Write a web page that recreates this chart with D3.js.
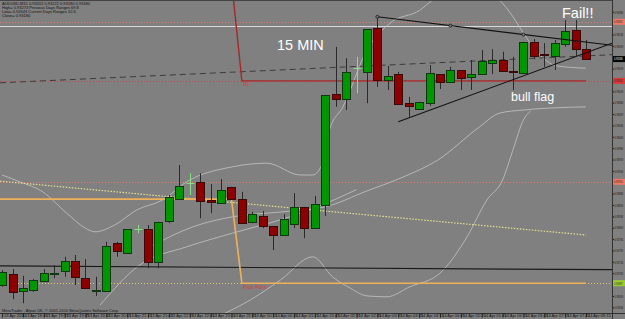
<!DOCTYPE html>
<html>
<head>
<meta charset="utf-8">
<script src="https://cdn.jsdelivr.net/npm/d3@7"></script>
<style>
  html, body { margin: 0; padding: 0; background: #808080; }
  svg { display: block; font-family: "Liberation Sans", Arial, sans-serif; }
</style>
</head>
<body>
<div id="chart"></div>
<script>
// ---- data (AUDUSD M15, 13-14 Apr 2010) ----
var opens  = [0.92683,0.92707,0.92670,0.92672,0.92692,0.92707,0.92714,0.92736,0.92698,0.92670,
              0.92670,0.92775,0.92753,0.92806,0.92806,0.92734,0.92824,0.92872,0.92907,0.92910,
              0.92870,0.92863,0.92899,0.92872,0.92822,0.92835,0.92813,0.92793,0.92817,0.92855,
              0.92808,0.92859,0.93103,0.93092,0.93160,0.93152,0.93248,0.93134,0.93147,0.93083,
              0.93070,0.93083,0.93147,0.93130,0.93156,0.93141,0.93147,0.93171,0.93178,0.93154,
              0.93149,0.93218,0.93191,0.93187,0.93213,0.93244,0.93202];
var highs  = [0.92716,0.92718,0.92703,0.92696,0.92718,0.92727,0.92745,0.92749,0.92740,0.92701,
              0.92778,0.92778,0.92806,0.92815,0.92815,0.92822,0.92881,0.92947,0.92929,0.92929,
              0.92905,0.92916,0.92899,0.92888,0.92844,0.92846,0.92813,0.92839,0.92885,0.92855,
              0.92879,0.93101,0.93207,0.93182,0.93185,0.93246,0.93273,0.93165,0.93152,0.93097,
              0.93086,0.93167,0.93147,0.93163,0.93156,0.93178,0.93200,0.93202,0.93196,0.93185,
              0.93218,0.93224,0.93215,0.93222,0.93266,0.93266,0.93222];
var lows   = [0.92679,0.92652,0.92643,0.92668,0.92690,0.92698,0.92701,0.92683,0.92676,0.92659,
              0.92670,0.92745,0.92753,0.92797,0.92720,0.92720,0.92819,0.92872,0.92881,0.92830,
              0.92841,0.92863,0.92872,0.92819,0.92819,0.92808,0.92760,0.92793,0.92808,0.92786,
              0.92808,0.92835,0.93075,0.93068,0.93105,0.93083,0.93119,0.93112,0.93081,0.93053,
              0.93070,0.93077,0.93114,0.93130,0.93112,0.93112,0.93147,0.93147,0.93154,0.93112,
              0.93149,0.93180,0.93163,0.93156,0.93207,0.93187,0.93180];
var closes = [0.92712,0.92668,0.92676,0.92694,0.92709,0.92709,0.92736,0.92701,0.92676,0.92672,
              0.92769,0.92758,0.92806,0.92806,0.92734,0.92822,0.92877,0.92901,0.92907,0.92868,
              0.92866,0.92892,0.92872,0.92819,0.92839,0.92813,0.92793,0.92828,0.92855,0.92808,
              0.92861,0.93101,0.93092,0.93152,0.93160,0.93246,0.93134,0.93143,0.93081,0.93077,
              0.93086,0.93149,0.93130,0.93156,0.93138,0.93147,0.93176,0.93178,0.93154,0.93152,
              0.93218,0.93187,0.93189,0.93215,0.93242,0.93202,0.93180];

var timeLabels = ["13 Apr 2010","13 Apr 18:45","13 Apr 19:15","13 Apr 19:45","13 Apr 20:15",
                  "13 Apr 20:45","13 Apr 21:15","13 Apr 21:45","13 Apr 22:15","13 Apr 22:45",
                  "13 Apr 23:15","13 Apr 23:45","14 Apr 00:15","14 Apr 00:45","14 Apr 01:15",
                  "14 Apr 01:45","14 Apr 02:15","14 Apr 02:45","14 Apr 03:15","14 Apr 03:45",
                  "14 Apr 04:15","14 Apr 04:45","14 Apr 05:15","14 Apr 05:45","14 Apr 06:15",
                  "14 Apr 06:45","14 Apr 07:15","14 Apr 07:45","14 Apr 08:15"];

// pivot indicator (previous day -> current day)
var pivotValues = [0.92872, 0.92687];
var r1Values    = [0.93354, 0.93132];
var dayBreak    = 23;   // first bar of 14 Apr

// horizontal levels
var levelLines = [
  {price: 0.93262, color: "#e8786a", dash: "1,2", width: 1},
  {price: 0.93253, color: "#d9d9d9", dash: null,  width: 1},
  {price: 0.93132, color: "#c84848", dash: "1,2", width: 1},
  {price: 0.92910, color: "#e8786a", dash: "1,2", width: 1},
  {price: 0.92687, color: "#e6c46a", dash: "1,2", width: 1}
];

// band / average lines [bar index, price]
var upperBand = [[0,0.92925],[1.7,0.92910],[3.9,0.92888],[6.2,0.92841],[8,0.92808],[8.9,0.92800],
                 [10.8,0.92815],[12.9,0.92848],[15.4,0.92870],[17.7,0.92910],[22.1,0.92943],
                 [25.4,0.92951],[28.6,0.92925],[29.8,0.92925],[30.8,0.92954],[31.4,0.93024],
                 [32.7,0.93075],[35,0.93200],[37.2,0.93259],[40.1,0.93288],[41.3,0.93310],
                 [44.5,0.93345],[47.7,0.93310],[49,0.93273],[50,0.93237],[51.6,0.93189],
                 [53.2,0.93165],[56,0.93160]];
var middleBand = [[9.4,0.92639],[13.2,0.92727],[17.7,0.92767],[22.1,0.92797],[27.6,0.92833],
                  [31,0.92862],[34,0.92893]];
var lowerBand  = [[21.4,0.92621],[23.8,0.92650],[26.7,0.92694],[29.8,0.92745],[31.7,0.92701],
                  [33.4,0.92676],[35,0.92659],[36.9,0.92657],[39.1,0.92679],[42,0.92709],
                  [44.6,0.92789],[46.5,0.92870],[48,0.92914],[49,0.92980],[50,0.93046],
                  [50.7,0.93066]];
var longAvg    = [[14.2,0.92767],[18.3,0.92811],[22.1,0.92833],[26.9,0.92844],[31,0.92855],
                  [35,0.92890],[38.2,0.92918],[41.8,0.92958],[45.8,0.93031],[47.7,0.93061],
                  [50,0.93068],[56,0.93075]];

// slow average (dotted yellow) and support line (dark)
var slowAvg   = [[0,0.92911],[56,0.92793]];
var supportLn = [[0,0.92725],[56,0.92717]];

// drawn trend lines: anchors [bar index, price]
var flagTop    = [[36,0.93273],[50,0.93234]];
var flagBottom = [[38,0.93042],[52,0.93160]];
var dashTrend  = [[0,0.93128],[56,0.93187]];

// ---- layout ----
var W = 625, H = 319, plotR = 612, plotB = 313;
var squeeze = 0.62;   // horizontal squeeze for the narrow price-scale labels

var x = d3.scaleLinear().domain([-0.2, 58.5]).range([0, plotR]);
var y = d3.scaleLinear().domain([0.926214, 0.93310]).range([plotB, 0]);

var svg = d3.select("#chart").append("svg")
    .attr("width", W)
    .attr("height", H);

svg.append("rect").attr("width", W).attr("height", H).attr("fill", "#808080");

svg.append("clipPath").attr("id", "plot")
  .append("rect").attr("width", plotR).attr("height", plotB);

var g = svg.append("g").attr("clip-path", "url(#plot)");

// extend a 2-point line across the plot
function rayPoints(a, b, fromLeft) {
  var slope = (b[1] - a[1]) / (b[0] - a[0]);
  var x0 = fromLeft ? x.domain()[0] : a[0];
  var x1 = x.domain()[1];
  return [[x0, a[1] + slope * (x0 - a[0])], [x1, a[1] + slope * (x1 - a[0])]];
}

var line = d3.line().x(function(d) { return x(d[0]); }).y(function(d) { return y(d[1]); });
var curve = d3.line().x(function(d) { return x(d[0]); }).y(function(d) { return y(d[1]); })
    .curve(d3.curveMonotoneX);

// horizontal levels
levelLines.forEach(function(l) {
  g.append("line")
    .attr("x1", 0).attr("x2", plotR)
    .attr("y1", Math.round(y(l.price)) + 0.5).attr("y2", Math.round(y(l.price)) + 0.5)
    .attr("stroke", l.color)
    .attr("stroke-width", l.width)
    .attr("stroke-dasharray", l.dash);
});

// bands
[upperBand, middleBand, lowerBand, longAvg].forEach(function(b) {
  g.append("path").attr("d", curve(b))
    .attr("fill", "none").attr("stroke", "#c4c4c4").attr("stroke-width", 0.8);
});

// slow average, from the left edge to the last bar
var slowStart = rayPoints(slowAvg[0], slowAvg[1], true)[0];
g.append("path").attr("d", line([slowStart, slowAvg[1]]))
  .attr("fill", "none").attr("stroke", "#e8e08c").attr("stroke-width", 1.2)
  .attr("stroke-dasharray", "1.5,1.5");

// support line
g.append("path").attr("d", line(rayPoints(supportLn[0], supportLn[1], true)))
  .attr("fill", "none").attr("stroke", "#1a1a1a").attr("stroke-width", 1.2);

// dashed trend line
g.append("path").attr("d", line(rayPoints(dashTrend[0], dashTrend[1], true)))
  .attr("fill", "none").attr("stroke", "#3c3c3c").attr("stroke-width", 1)
  .attr("stroke-dasharray", "6,4");

// pivot / R1 indicator lines
function levelSeries(vals) {
  return d3.range(-1, closes.length).map(function(i) {
    return [i < 0 ? x.domain()[0] : i, i < dayBreak ? vals[0] : vals[1]];
  });
}
g.append("path").attr("d", line(levelSeries(pivotValues)))
  .attr("fill", "none").attr("stroke", "#f0b058").attr("stroke-width", 1.6);
g.append("path").attr("d", line(levelSeries(r1Values)))
  .attr("fill", "none").attr("stroke", "#a52828").attr("stroke-width", 1.4);

g.append("text").attr("x", x(dayBreak) + 1).attr("y", y(r1Values[1]) + 5)
  .attr("font-size", 5).attr("fill", "#d04040").text("R1");
g.append("text").attr("x", x(dayBreak) + 1).attr("y", y(pivotValues[1]) + 5.5)
  .attr("font-size", 5).attr("fill", "#d04040").text("Pivot Point");

// candles
var idx = d3.range(closes.length);
var candles = g.append("g").selectAll("g").data(idx).enter().append("g");

candles.append("line")
  .attr("x1", function(i) { return Math.round(x(i)) + 0.5; })
  .attr("x2", function(i) { return Math.round(x(i)) + 0.5; })
  .attr("y1", function(i) { return y(highs[i]); })
  .attr("y2", function(i) { return y(lows[i]); })
  .attr("stroke", function(i) { return opens[i] === closes[i] ? "#86e086" : "#2a2a2a"; })
  .attr("stroke-width", 1);

candles.filter(function(i) { return opens[i] !== closes[i]; })
  .append("rect")
  .attr("x", function(i) { return Math.round(x(i)) - 3.5; })
  .attr("y", function(i) { return Math.round(y(Math.max(opens[i], closes[i]))) + 0.5; })
  .attr("width", 8)
  .attr("height", function(i) {
    return Math.max(1, Math.round(Math.abs(y(opens[i]) - y(closes[i]))));
  })
  .attr("fill", function(i) { return closes[i] > opens[i] ? "#009600" : "#8c0000"; })
  .attr("stroke", function(i) { return closes[i] > opens[i] ? "#103810" : "#3a0808"; })
  .attr("stroke-width", 1);

candles.filter(function(i) { return opens[i] === closes[i]; })
  .append("line")
  .attr("x1", function(i) { return Math.round(x(i)) - 3.5; })
  .attr("x2", function(i) { return Math.round(x(i)) + 4.5; })
  .attr("y1", function(i) { return Math.round(y(opens[i])) + 0.5; })
  .attr("y2", function(i) { return Math.round(y(opens[i])) + 0.5; })
  .attr("stroke", "#86e086");

// flag trend lines
g.append("path").attr("d", line(rayPoints(flagTop[0], flagTop[1], false)))
  .attr("fill", "none").attr("stroke", "#111").attr("stroke-width", 1.1);
g.append("path").attr("d", line(rayPoints(flagBottom[0], flagBottom[1], false)))
  .attr("fill", "none").attr("stroke", "#111").attr("stroke-width", 1.1);
g.selectAll("circle.anchor")
  .data([flagTop[0], [(flagTop[0][0] + flagTop[1][0]) / 2, (flagTop[0][1] + flagTop[1][1]) / 2], flagTop[1]])
  .enter().append("circle")
  .attr("cx", function(d) { return x(d[0]); })
  .attr("cy", function(d) { return y(d[1]); })
  .attr("r", 1.5).attr("fill", "#808080").attr("stroke", "#111").attr("stroke-width", 0.8);

// annotations
g.append("text").attr("x", 277).attr("y", 50).attr("font-size", 14.5)
  .attr("fill", "#ffffff").text("15 MIN");
g.append("text").attr("x", 562).attr("y", 18).attr("font-size", 14.5)
  .attr("fill", "#ffffff").text("Fail!!");
g.append("text").attr("x", 511).attr("y", 101).attr("font-size", 12.5)
  .attr("fill", "#ffffff").text("bull flag");

// info block
var info = ["AUDUSD,M15  0.93202 0.93222 0.93180 0.93180",
            "High= 0.93273      Previous Days Ranges 69.8",
            "Low= 0.92643      Current Days Ranges 52.6",
            "Close= 0.93180"];
svg.selectAll("text.info").data(info).enter().append("text")
  .attr("x", 2).attr("y", function(d, k) { return 5 + k * 4; })
  .attr("font-size", 4).attr("fill", "#111").text(function(d) { return d; });

svg.append("text").attr("x", 2).attr("y", 311.5).attr("font-size", 4).attr("fill", "#111")
  .text("MetaTrader - Alpari UK, \u00a9 2001-2010 MetaQuotes Software Corp.");

// frame
svg.append("line").attr("x1", 0).attr("x2", plotR).attr("y1", 0.5).attr("y2", 0.5)
  .attr("stroke", "#444");
svg.append("line").attr("x1", plotR + 0.5).attr("x2", plotR + 0.5).attr("y1", 0).attr("y2", H)
  .attr("stroke", "#333");
svg.append("line").attr("x1", 0).attr("x2", W).attr("y1", plotB + 0.5).attr("y2", plotB + 0.5)
  .attr("stroke", "#333");

// axis price boxes
var boxes = [
  {price: 0.93262, color: "#ec7a64", text: "#222"},
  {price: closes[closes.length - 1], color: "#000000", text: "#fff"},
  {price: r1Values[1], color: "#d83a3a", text: "#222"},
  {price: 0.92910, color: "#ec7a64", text: "#222"},
  {price: pivotValues[1], color: "#9acd32", text: "#222"}
];

// price axis (labels hidden under the coloured boxes are skipped)
var priceTicks = d3.range(0, 28).map(function(k) { return 0.93309 - k * 0.00025; })
  .filter(function(p) {
    return y(p) > 2.5 && boxes.every(function(b) { return Math.abs(y(p) - y(b.price)) > 5; });
  });
var yAxis = svg.append("g").attr("transform", "translate(" + (plotR + 0.5) + ",0)")
  .call(d3.axisRight(y).tickValues(priceTicks).tickSize(1.5).tickPadding(0.5)
        .tickFormat(d3.format(".5f")));
yAxis.select(".domain").remove();
yAxis.selectAll("text").attr("font-size", 3.8).attr("fill", "#111")
  .attr("x", 2 / squeeze).attr("transform", "scale(" + squeeze + ",1)");
yAxis.selectAll("line").attr("stroke", "#222");

// time axis
var timeTicks = d3.range(0, closes.length, 2);
var xAxis = svg.append("g").attr("transform", "translate(0," + (plotB + 0.5) + ")")
  .call(d3.axisBottom(x).tickValues(timeTicks).tickSize(4).tickPadding(-3.5)
        .tickFormat(function(d, k) { return timeLabels[k]; }));
xAxis.select(".domain").remove();
xAxis.selectAll("text").attr("font-size", 4).attr("fill", "#111")
  .attr("text-anchor", "start").attr("dx", 1.5);
xAxis.selectAll("line").attr("stroke", "#222");

var bx = svg.selectAll("g.box").data(boxes).enter().append("g")
  .attr("transform", function(d) { return "translate(" + (plotR + 1) + "," + y(d.price) + ")"; });
bx.append("rect").attr("x", 0).attr("y", -3).attr("width", W - plotR).attr("height", 6)
  .attr("fill", function(d) { return d.color; });
bx.append("text").attr("x", 1 / squeeze).attr("y", 1.4).attr("font-size", 3.8)
  .attr("transform", "scale(" + squeeze + ",1)")
  .attr("fill", function(d) { return d.text; })
  .text(function(d) { return d3.format(".5f")(d.price); });
</script>
</body>
</html>
